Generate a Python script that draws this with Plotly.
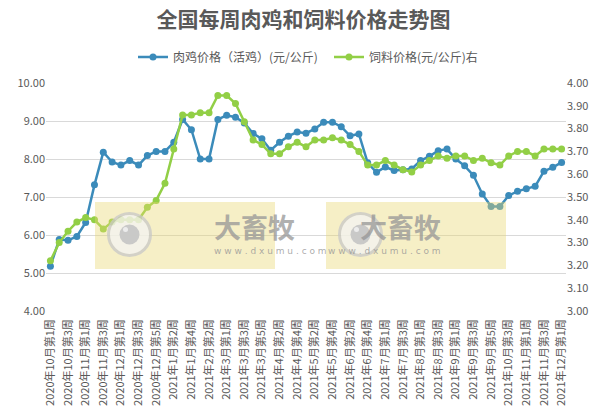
import plotly.graph_objects as go

weeks = [
    "2020年10月第1周", "2020年10月第2周", "2020年10月第3周", "2020年10月第4周",
    "2020年11月第1周", "2020年11月第2周", "2020年11月第3周", "2020年11月第4周",
    "2020年12月第1周", "2020年12月第2周", "2020年12月第3周", "2020年12月第4周", "2020年12月第5周",
    "2021年1月第1周", "2021年1月第2周", "2021年1月第3周", "2021年1月第4周",
    "2021年2月第1周", "2021年2月第2周", "2021年2月第4周",
    "2021年3月第1周", "2021年3月第2周", "2021年3月第3周", "2021年3月第4周", "2021年3月第5周",
    "2021年4月第1周", "2021年4月第2周", "2021年4月第3周", "2021年4月第4周",
    "2021年5月第1周", "2021年5月第2周", "2021年5月第3周", "2021年5月第4周",
    "2021年6月第1周", "2021年6月第2周", "2021年6月第3周", "2021年6月第4周", "2021年6月第5周",
    "2021年7月第1周", "2021年7月第2周", "2021年7月第3周", "2021年7月第4周",
    "2021年8月第1周", "2021年8月第2周", "2021年8月第3周", "2021年8月第4周",
    "2021年9月第1周", "2021年9月第2周", "2021年9月第3周", "2021年9月第4周", "2021年9月第5周",
    "2021年10月第2周", "2021年10月第3周", "2021年10月第4周",
    "2021年11月第1周", "2021年11月第2周", "2021年11月第3周", "2021年11月第4周",
    "2021年12月第1周",
]

chicken_price = [
    5.18, 5.88, 5.86, 5.96, 6.33, 7.32, 8.18, 7.92, 7.84, 7.96, 7.84, 8.09,
    8.20, 8.20, 8.44, 9.04, 8.77, 8.00, 8.00, 9.04, 9.15, 9.10, 8.95,
    8.67, 8.53, 8.23, 8.44, 8.60, 8.71, 8.68, 8.79, 8.97, 8.97, 8.85,
    8.61, 8.66, 7.90, 7.65, 7.79, 7.70, 7.72, 7.74, 7.96, 8.07, 8.22, 8.26,
    8.00, 7.82, 7.57, 7.08, 6.75, 6.75, 7.04, 7.15, 7.22, 7.28, 7.68, 7.78, 7.91,
]

feed_price = [
    3.22, 3.30, 3.35, 3.39, 3.41, 3.40, 3.36, 3.39, 3.40, 3.40, 3.40, 3.455,
    3.485, 3.56, 3.71, 3.86, 3.86, 3.87, 3.87, 3.945, 3.945, 3.91, 3.83,
    3.75, 3.73, 3.69, 3.69, 3.72, 3.74, 3.72, 3.75, 3.75, 3.76, 3.75,
    3.73, 3.70, 3.64, 3.64, 3.66, 3.64, 3.62, 3.61, 3.64, 3.66, 3.68, 3.67,
    3.68, 3.68, 3.66, 3.67, 3.65, 3.64, 3.68, 3.70, 3.70, 3.68, 3.71, 3.71, 3.71,
]

left_ticks = [4, 5, 6, 7, 8, 9, 10]
right_ticks = [3.0, 3.1, 3.2, 3.3, 3.4, 3.5, 3.6, 3.7, 3.8, 3.9, 4.0]

BLUE = "#3b8bba"
GREEN = "#92cf46"
TXT = "#595959"
FONT = "Noto Sans CJK SC"

fig = go.Figure()
fig.add_trace(go.Scatter(
    x=weeks, y=chicken_price, name="肉鸡价格（活鸡）(元/公斤)",
    mode="lines+markers", line=dict(color=BLUE, width=2.5),
    marker=dict(color=BLUE, size=7), yaxis="y",
))
fig.add_trace(go.Scatter(
    x=weeks, y=feed_price, name="饲料价格(元/公斤)右",
    mode="lines+markers", line=dict(color=GREEN, width=2.5),
    marker=dict(color=GREEN, size=7), yaxis="y2",
))

# watermark decorations (paper coordinates)
W, H = 520.0, 228.0
L0, B0 = 46.0, 311.0
def px(x):
    return (x - L0) / W
def py(y):
    return (B0 - y) / H

shapes = []
annotations = []
for dx in (0, 231):
    shapes.append(dict(type="rect", xref="paper", yref="paper",
                       x0=px(95 + dx), x1=px(275 + dx), y0=py(269), y1=py(202),
                       fillcolor="#e8d870", opacity=0.4, line=dict(width=0), layer="above"))
    shapes.append(dict(type="circle", xref="paper", yref="paper",
                       x0=px(108.5 + dx), x1=px(150.5 + dx), y0=py(255.5), y1=py(213.5),
                       fillcolor="#f4f4f4", opacity=0.75,
                       line=dict(color="#c8c8c8", width=3), layer="above"))
    shapes.append(dict(type="circle", xref="paper", yref="paper",
                       x0=px(119.5 + dx), x1=px(139.5 + dx), y0=py(244.5), y1=py(224.5),
                       fillcolor="#c4c4c4", opacity=0.9, line=dict(width=0), layer="above"))
    shapes.append(dict(type="circle", xref="paper", yref="paper",
                       x0=px(123 + dx), x1=px(128 + dx), y0=py(232), y1=py(227),
                       fillcolor="#ececec", line=dict(width=0), layer="above"))
    annotations.append(dict(xref="paper", yref="paper", x=px(212 + dx), y=py(226),
                            text="<b>大畜牧</b>", showarrow=False,
                            font=dict(family=FONT, size=27, color="rgba(150,150,150,0.75)")))
    annotations.append(dict(xref="paper", yref="paper", x=px(212 + dx), y=py(258),
                            text="w w w . d x u m u . c o m", showarrow=False,
                            font=dict(family="DejaVu Sans", size=9, color="rgba(150,150,150,0.8)")))

fig.update_layout(
    width=607, height=418,
    margin=dict(l=46, r=41, t=83, b=107, autoexpand=False),
    paper_bgcolor="white", plot_bgcolor="white",
    font=dict(family=FONT, color=TXT, size=11),
    title=dict(text="<b>全国每周肉鸡和饲料价格走势图</b>", x=0.5, xanchor="center",
               xref="container", y=1 - 20 / 418, yanchor="middle", yref="container",
               font=dict(family=FONT, size=21, color=TXT)),
    legend=dict(orientation="h", x=133 / 607, xanchor="left", xref="container",
                y=1 - 57 / 418, yanchor="middle", yref="container",
                font=dict(family=FONT, size=12, color=TXT), itemwidth=30,
                entrywidth=151, entrywidthmode="pixels",
                bgcolor="rgba(0,0,0,0)"),
    xaxis=dict(type="category", tickmode="array", tickvals=weeks[::2], ticktext=weeks[::2],
               tickangle=-90, tickfont=dict(size=11, color=TXT), showgrid=False,
               showline=False, ticks="", ticklabelstandoff=5,
               range=[-0.5, len(weeks) - 0.5], automargin=False),
    yaxis=dict(range=[4, 10], tickvals=left_ticks, ticktext=[f"{v:.2f}" for v in left_ticks],
               showgrid=True, gridcolor="#d9d9d9", gridwidth=1, zeroline=False,
               showline=False, tickfont=dict(size=11, color=TXT), automargin=False),
    yaxis2=dict(range=[3, 4], overlaying="y", side="right", tickvals=right_ticks,
                ticktext=[f"{v:.2f}" for v in right_ticks], showgrid=False, zeroline=False,
                showline=False, tickfont=dict(size=11, color=TXT), automargin=False),
    shapes=shapes, annotations=annotations,
)

fig.write_html("out.html", config={"displayModeBar": False},
               post_script="document.body.style.margin='0';document.body.style.overflow='hidden';")
